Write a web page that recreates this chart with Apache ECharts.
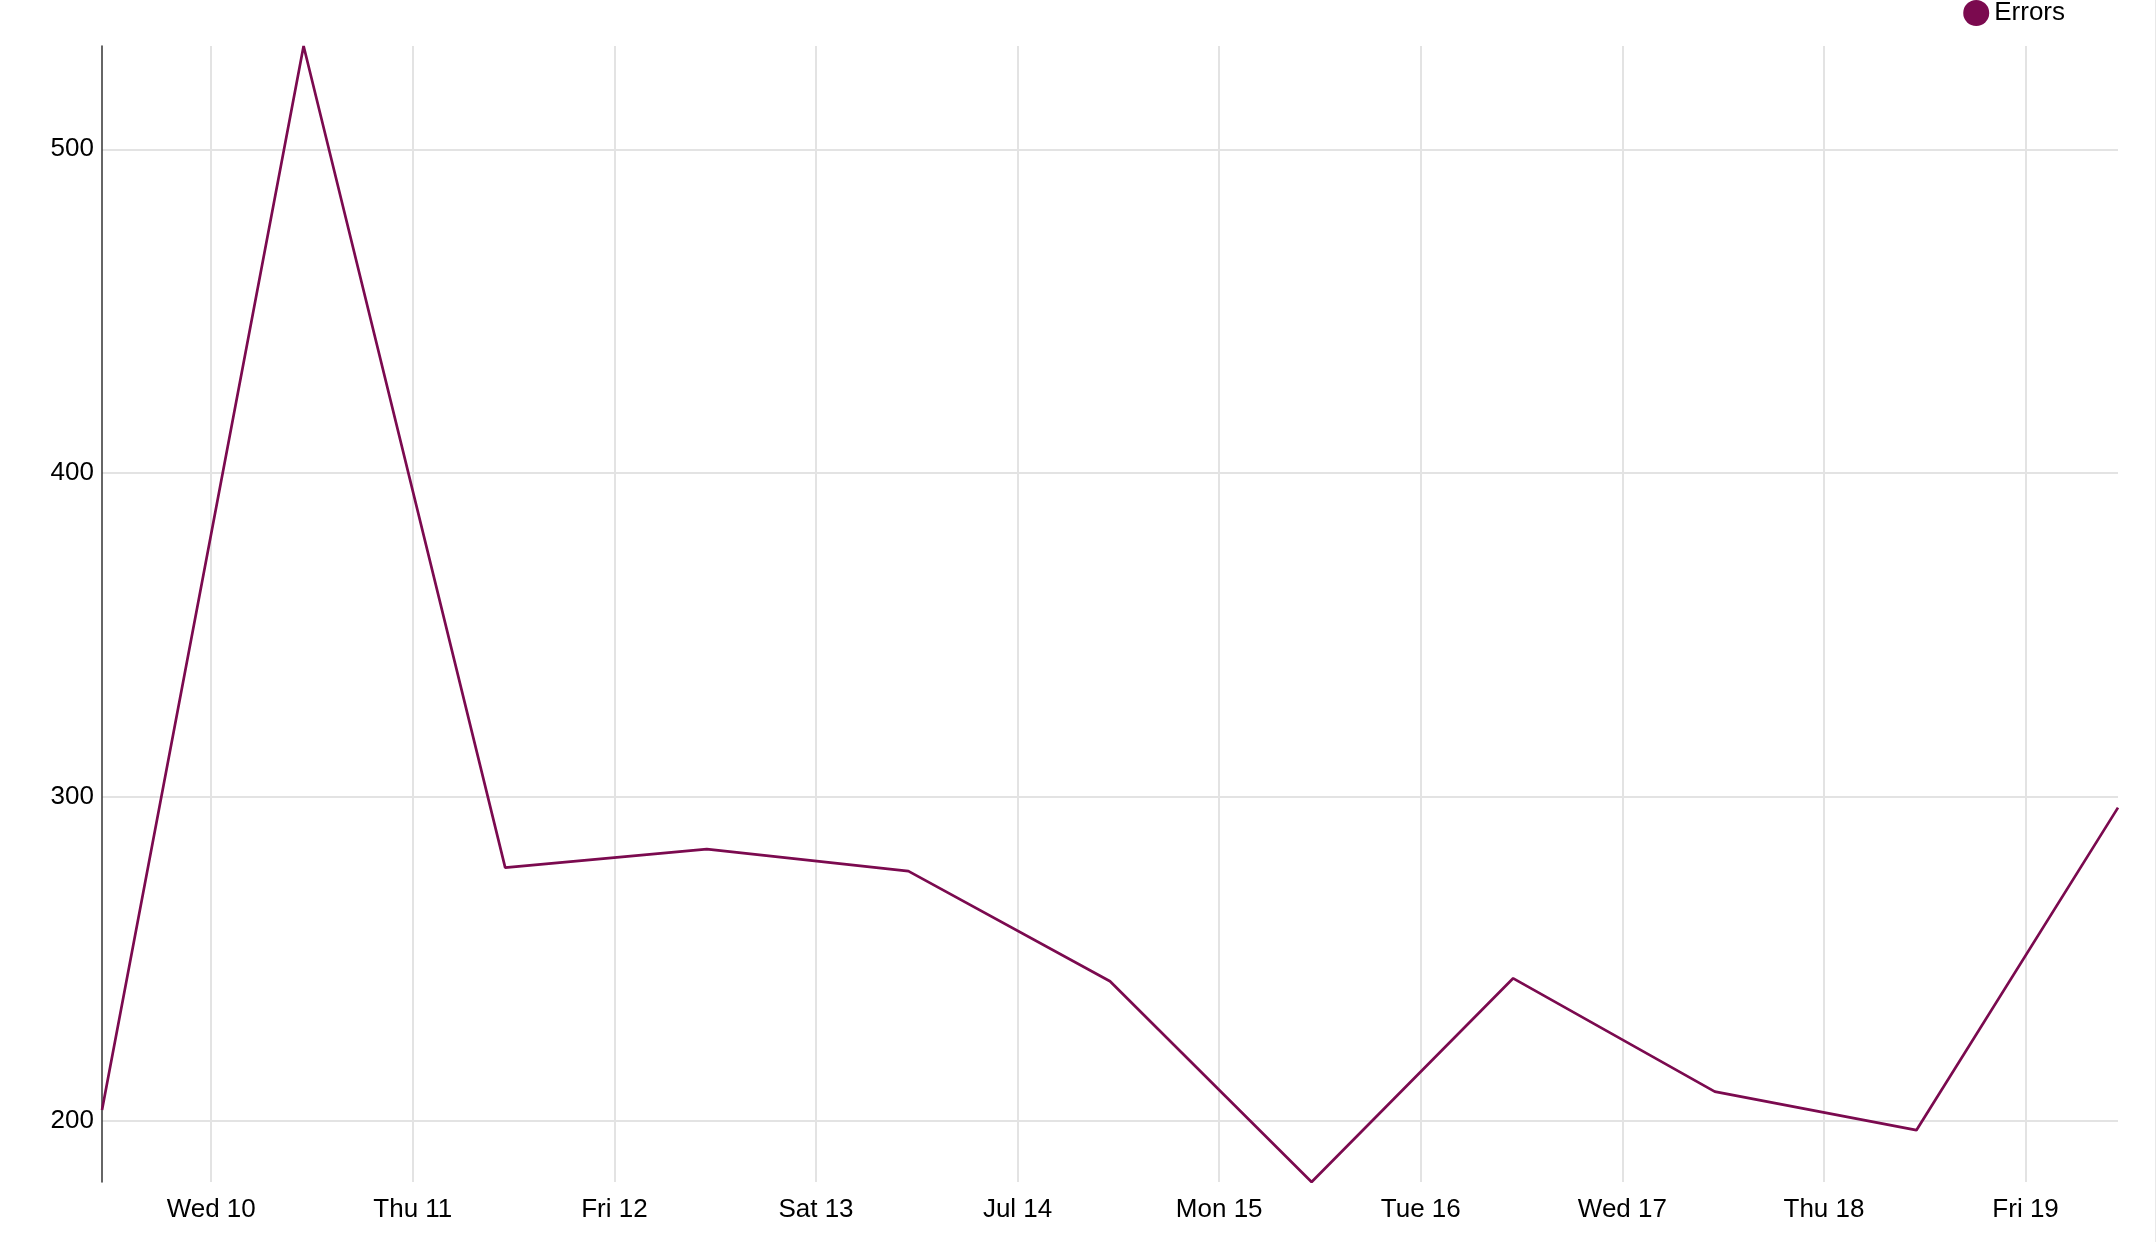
<!DOCTYPE html>
<html>
<head>
<meta charset="utf-8">
<style>
html,body{margin:0;padding:0;background:#fff;}
#chart{width:2155px;height:1242px;border-right:1px solid #e8e8e8;}
</style>
<script src="https://cdn.jsdelivr.net/npm/echarts@6/dist/echarts.min.js"></script>
</head>
<body>
<div id="chart"></div>
<script>
const seriesName = 'Errors';
const times = [
  '2024-07-09T11:00:00', '2024-07-10T11:00:00', '2024-07-11T11:00:00',
  '2024-07-12T11:00:00', '2024-07-13T11:00:00', '2024-07-14T11:00:00',
  '2024-07-15T11:00:00', '2024-07-16T11:00:00', '2024-07-17T11:00:00',
  '2024-07-18T11:00:00', '2024-07-19T11:00:00'
];
const errors = [203.3, 531.9, 278.2, 283.9, 277.1, 243.1, 181.1, 244.0, 209.0, 197.1, 296.7];
const yTicks = [200, 300, 400, 500];
const weekdayNames = ['Sun', 'Mon', 'Tue', 'Wed', 'Thu', 'Fri', 'Sat'];
const monthNames = ['Jan','Feb','Mar','Apr','May','Jun','Jul','Aug','Sep','Oct','Nov','Dec'];

const stamps = times.map(t => new Date(t).getTime());
// daily tick positions (midnights) between first and last data time
const first = new Date(stamps[0]);
const lastStamp = stamps[stamps.length - 1];
const dayTicks = [];
const d = new Date(first.getFullYear(), first.getMonth(), first.getDate() + 1);
while (d.getTime() <= lastStamp) {
  dayTicks.push(d.getTime());
  d.setDate(d.getDate() + 1);
}

function fmtDay(v) {
  const dt = new Date(v);
  if (dt.getDay() === 0) return monthNames[dt.getMonth()] + ' ' + dt.getDate();
  return weekdayNames[dt.getDay()] + ' ' + dt.getDate();
}

const FONT = '"Liberation Sans", Arial, sans-serif';
const chart = echarts.init(document.getElementById('chart'), null, {renderer: 'canvas'});
chart.setOption({
  animation: false,
  textStyle: {fontFamily: FONT},
  legend: {
    data: [{name: seriesName, icon: 'circle'}],
    top: 0,
    right: 90,
    padding: 0,
    itemWidth: 26,
    itemHeight: 26,
    itemGap: 10,
    textStyle: {fontSize: 26, color: '#000', fontFamily: FONT}
  },
  grid: {left: 102, right: 37, top: 46, bottom: 60, containLabel: false},
  xAxis: {
    type: 'value',
    min: 'dataMin',
    max: 'dataMax',
    axisLine: {show: false},
    axisTick: {show: false, customValues: dayTicks},
    axisLabel: {
      customValues: dayTicks,
      formatter: fmtDay,
      fontSize: 26,
      color: '#000',
      margin: 15,
      fontFamily: FONT
    },
    splitLine: {show: true, lineStyle: {color: '#e3e3e3', width: 2}}
  },
  yAxis: {
    type: 'value',
    min: 'dataMin',
    max: 'dataMax',
    axisLine: {show: true, lineStyle: {color: '#333', width: 1.5}},
    axisTick: {show: false, customValues: yTicks},
    axisLabel: {
      customValues: yTicks,
      fontSize: 26,
      color: '#000',
      margin: 8,
      fontFamily: FONT
    },
    splitLine: {show: true, lineStyle: {color: '#e3e3e3', width: 2}}
  },
  series: [{
    name: seriesName,
    type: 'line',
    data: stamps.map((t, i) => [t, errors[i]]),
    showSymbol: false,
    symbol: 'none',
    clip: true,
    itemStyle: {color: '#7b0a4f'},
    lineStyle: {color: '#7b0a4f', width: 2.7}
  }]
});
</script>
</body>
</html>
